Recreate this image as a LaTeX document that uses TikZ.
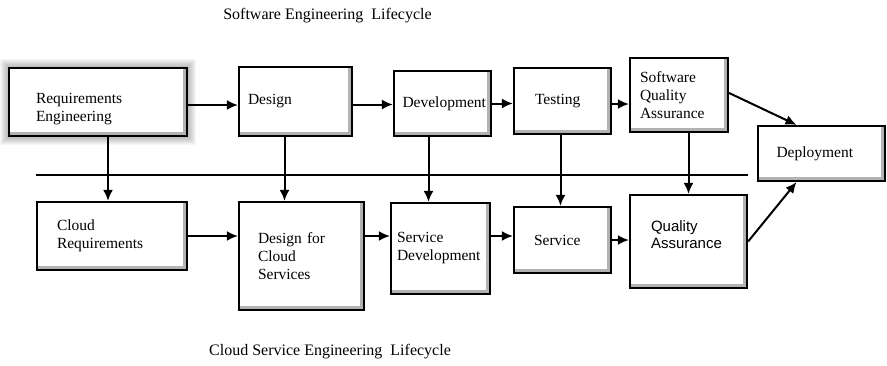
\documentclass[tikz,border=0pt]{standalone}
\usepackage{fontspec}
\setmainfont{Liberation Serif}
\newfontfamily\arialfont{Liberation Sans}
\usetikzlibrary{arrows.meta,backgrounds}

\begin{document}
\begin{tikzpicture}[x=1pt,y=-1pt,
                    arr/.style={-{Latex[length=11pt,width=10pt]},line width=2pt},
                    box/.style={draw,line width=2.2pt,fill=white,align=left,
                      font=\fontsize{15.5}{18}\selectfont,
                      path picture={\draw[black!30,line width=8pt]
                        (path picture bounding box.south west) --
                        (path picture bounding box.south east) --
                        (path picture bounding box.north east);}},
                    title/.style={font=\fontsize{16}{18}\selectfont}]
  \useasboundingbox (0,0) rectangle (887,365);

  % software engineering row
  \node[box,minimum width=178,minimum height=68,text width=124,text height=24pt]
                  (req)    at (98,102)    {Requirements\\Engineering};
  \node[box,minimum width=113,minimum height=69,text width=95]
                  (design) at (295.5,101.5) {Design};
  \node[box,minimum width=97,minimum height=65,text width=80]
                  (dev)    at (442.5,103.5) {Development};
  \node[box,minimum width=97,minimum height=66,text width=55]
                  (test)   at (562.5,101) {Testing};
  \node[box,minimum width=98,minimum height=74,text width=78]
                  (sqa)    at (679,95)    {Software\\Quality\\Assurance};
  \node[box,minimum width=127,minimum height=55,text width=90]
                  (deploy) at (821.5,153.5) {Deployment};

  % cloud service engineering row
  \node[box,minimum width=150,minimum height=68,text width=110]
                  (creq)   at (112,236)   {Cloud\\Requirements};
  \node[box,minimum width=125,minimum height=108,text width=87]
                  (dcs)    at (301.5,256) {Design for\\Cloud\\Services};
  \node[box,minimum width=99,minimum height=91,text width=87]
                  (sdev)   at (440.5,248.5) {Service\\Development};
  \node[box,minimum width=97,minimum height=66,text width=57]
                  (serv)   at (562.5,240) {Service};
  \node[box,minimum width=117,minimum height=93,text width=75,text depth=30pt,
        font=\arialfont\fontsize{15}{17}\selectfont]
                  (qa)     at (688.5,241.5) {Quality\\Assurance};

  % blurred shadow round the first box
  \begin{scope}[on background layer]
    \foreach \s in {1,...,8}
      \fill[black,opacity=.035] ([xshift=-\s pt,yshift=\s pt]req.north west)
                                rectangle ([xshift=\s pt,yshift=-\s pt]req.south east);
  \end{scope}

  % titles
  \node[title] (swtitle) at (327.5,16)  {Software Engineering\ \ Lifecycle};
  \node[title] (cstitle) at (330,352)   {Cloud Service Engineering\ \ Lifecycle};

  % separator
  \coordinate (sepL) at (36,175);
  \coordinate (sepR) at (748,175);
  \draw[line width=1.8pt] (sepL) -- (sepR);

  % top flow
  \draw[arr] ([yshift=-3pt]req.east) -- ([yshift=-3pt]req.east -| design.west);
  \draw[arr] ([yshift=-3pt]design.east) -- ([yshift=-3pt]design.east -| dev.west);
  \draw[arr] (dev.east) -- (dev.east -| test.west);
  \draw[arr] ([yshift=-3pt]test.east) -- ([yshift=-3pt]test.east -| sqa.west);
  \draw[arr] ([yshift=2pt]sqa.east) -- ([xshift=-25pt]deploy.north);

  % bottom flow
  \draw[arr] (creq.east) -- (creq.east -| dcs.west);
  \draw[arr] (creq.east -| dcs.east) -- (creq.east -| sdev.west);
  \draw[arr] (creq.east -| sdev.east) -- (creq.east -| serv.west);
  \draw[arr] (serv.east) -- (serv.east -| qa.west);
  \draw[arr] (qa.east) -- ([xshift=-25pt]deploy.south);

  % down to the cloud row
  \draw[arr] ([xshift=-4pt]creq.north |- req.south) -- ([xshift=-4pt]creq.north);
  \draw[arr] ([xshift=-11pt]design.south) -- ([xshift=-11pt]design.south |- dcs.north);
  \draw[arr] ([xshift=-14pt]dev.south) -- ([xshift=-14pt]dev.south |- sdev.north);
  \draw[arr] ([xshift=-2pt]test.south) -- ([xshift=-2pt]test.south |- serv.north);
  \draw[arr] (qa.north |- sqa.south) -- (qa.north);
\end{tikzpicture}
\end{document}
